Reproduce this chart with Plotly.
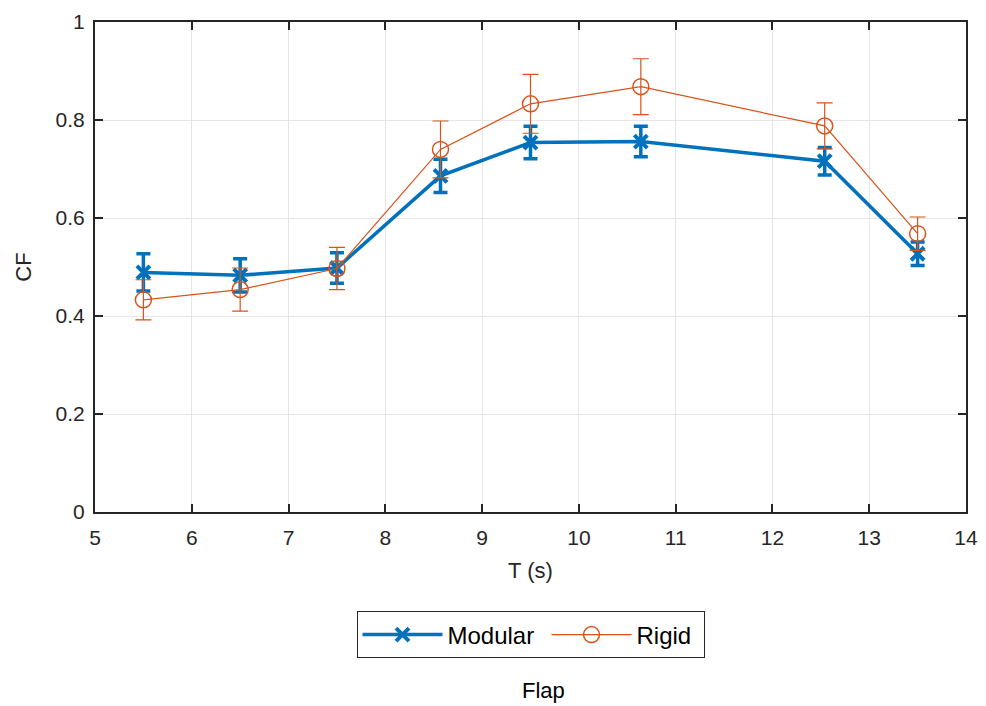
import plotly.graph_objects as go

# Data
T_modular = [5.5, 6.5, 7.5, 8.57, 9.5, 10.64, 12.54, 13.5]
CF_modular = [0.489, 0.483, 0.498, 0.686, 0.754, 0.756, 0.716, 0.527]
ERR_modular = [0.038, 0.034, 0.031, 0.034, 0.033, 0.031, 0.028, 0.024]

T_rigid = [5.5, 6.5, 7.5, 8.57, 9.5, 10.64, 12.54, 13.5]
CF_rigid = [0.433, 0.454, 0.497, 0.740, 0.833, 0.868, 0.788, 0.568]
ERR_rigid = [0.041, 0.044, 0.043, 0.058, 0.060, 0.057, 0.047, 0.034]

x_ticks = [5, 6, 7, 8, 9, 10, 11, 12, 13, 14]
y_ticks = [0, 0.2, 0.4, 0.6, 0.8, 1]

BLUE = "#0072BD"
ORANGE = "#D95319"
FONT = "Liberation Sans, Arial, sans-serif"

fig = go.Figure()
fig.add_trace(go.Scatter(
    x=T_modular, y=CF_modular, name="Modular", mode="lines+markers",
    line=dict(color=BLUE, width=3.5),
    marker=dict(symbol="x-thin", size=13, line=dict(color=BLUE, width=4), color=BLUE),
    error_y=dict(type="data", array=ERR_modular, color=BLUE, thickness=3.5, width=7),
    legendwidth=94,
))
fig.add_trace(go.Scatter(
    x=T_rigid, y=CF_rigid, name="Rigid", mode="lines+markers",
    line=dict(color=ORANGE, width=1.2),
    marker=dict(symbol="circle-open", size=16, line=dict(color=ORANGE, width=1.5), color=ORANGE),
    error_y=dict(type="data", array=ERR_rigid, color=ORANGE, thickness=1.2, width=8),
    legendwidth=62,
))

axis_common = dict(
    showline=True, linecolor="#262626", linewidth=2, mirror="ticks",
    ticks="inside", ticklen=8, tickcolor="#262626", tickwidth=1.5,
    showgrid=True, gridcolor="#e6e6e6", gridwidth=1, zeroline=False,
    tickfont=dict(family=FONT, size=21, color="#262626"),
    automargin=False,
)

fig.update_xaxes(range=[5, 14], tickvals=x_ticks, ticktext=[str(v) for v in x_ticks],
                 ticklabelstandoff=6,
                 title=dict(text="T (s)", font=dict(family=FONT, size=22, color="#262626"), standoff=14),
                 **axis_common)
fig.update_yaxes(range=[0, 1], tickvals=y_ticks, ticktext=["0", "0.2", "0.4", "0.6", "0.8", "1"],
                 ticklabelstandoff=4,
                 title=dict(text="CF", font=dict(family=FONT, size=22, color="#262626"), standoff=18),
                 **axis_common)

fig.update_layout(
    width=986, height=706,
    margin=dict(l=95, r=20, t=22, b=194),
    paper_bgcolor="white", plot_bgcolor="white",
    font=dict(family=FONT, size=21, color="#262626"),
    showlegend=True,
    legend=dict(orientation="h", x=0.5, xanchor="center", y=-0.203, yanchor="top",
                bordercolor="#262626", borderwidth=1, bgcolor="white",
                font=dict(family=FONT, size=24, color="#000000"),
                itemwidth=80),
    annotations=[dict(text="Flap", xref="paper", yref="paper", x=0.515, y=-0.335,
                      xanchor="center", yanchor="top", showarrow=False,
                      font=dict(family=FONT, size=22, color="#000000"))],
)

fig.write_html("out.html")
